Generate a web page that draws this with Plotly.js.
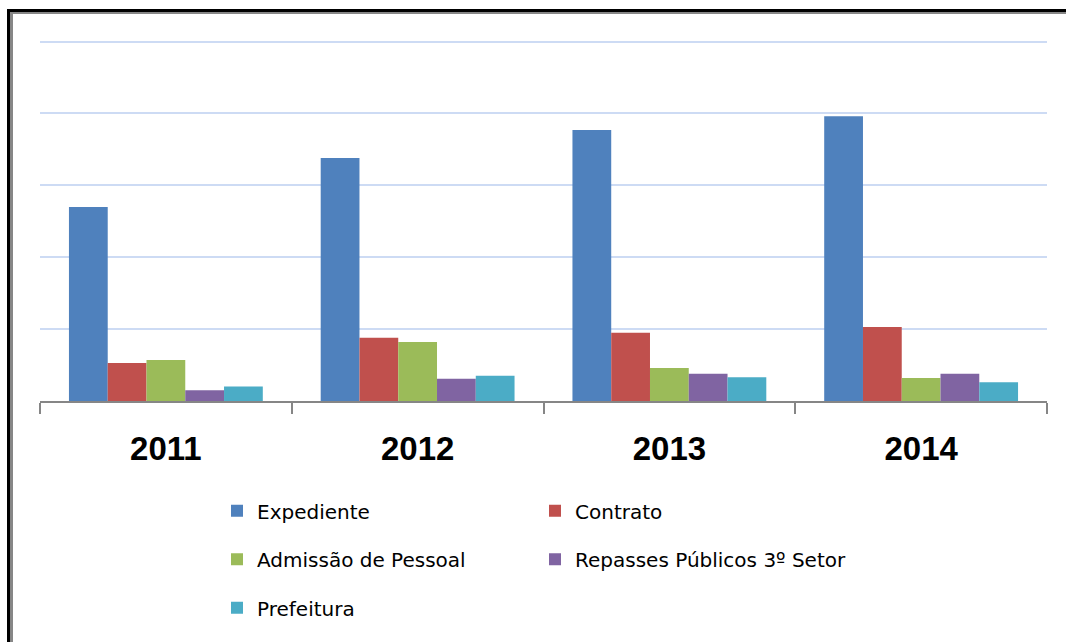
<!DOCTYPE html>
<html>
<head>
<meta charset="utf-8">
<script src="https://cdn.plot.ly/plotly-3.0.1.min.js"></script>
<style>
  body { margin: 0; background: #fff; }
  #frame {
    position: absolute; left: 7px; top: 9px; width: 1100px; height: 700px;
    border-left: 3px solid #000; border-top: 3px solid #000;
    pointer-events: none; z-index: 5;
  }
  #frame div {
    width: 100%; height: 100%;
    border-left: 3px solid #878787; border-top: 2px solid #878787;
  }
  #chart { position: absolute; left: 0; top: 0; width: 1066px; height: 642px; }
</style>
</head>
<body>
<div id="frame"><div></div></div>
<div id="chart"></div>
<script>
// anos no eixo x
let anos = ['2011', '2012', '2013', '2014'];

// valores (escala sem rótulos)
let expediente = [270, 338, 377, 396];
let contrato = [53, 88, 95, 103];
let admissao = [57, 82, 46, 32];
let repasses = [15, 31, 38, 38];
let prefeitura = [20, 35, 33, 26];

let nomes = ['Expediente', 'Contrato', 'Admissão de Pessoal', 'Repasses Públicos 3º Setor', 'Prefeitura'];
let cores = ['#4f81bd', '#c0504d', '#9bbb59', '#8064a2', '#4bacc6'];
let series = [expediente, contrato, admissao, repasses, prefeitura];
let legendas = ['legend', 'legend', 'legend2', 'legend2', 'legend3'];

let traces = [];
for (let i = 0; i < series.length; i++) {
    traces.push({
        type: 'bar',
        x: anos,
        y: series[i],
        name: nomes[i],
        legend: legendas[i],
        marker: { color: cores[i] }
    });
}

let fonteLegenda = { family: 'DejaVu Sans', size: 20, color: '#000' };
function legenda(y) {
    return {
        orientation: 'h',
        x: (217 - 40) / 1007,
        xanchor: 'left',
        y: y,
        yanchor: 'middle',
        entrywidth: 273,
        entrywidthmode: 'pixels',
        font: fonteLegenda,
        bgcolor: 'rgba(0,0,0,0)'
    };
}

let layout = {
    width: 1066,
    height: 642,
    margin: { l: 40, r: 19, t: 38, b: 241 },
    paper_bgcolor: '#fff',
    plot_bgcolor: '#fff',
    barmode: 'group',
    bargap: 0.23,
    bargroupgap: 0,
    showlegend: true,
    xaxis: {
        type: 'category',
        showline: true,
        linecolor: '#868686',
        linewidth: 2,
        ticks: 'outside',
        tickson: 'boundaries',
        ticklen: 11,
        tickwidth: 2,
        tickcolor: '#868686',
        ticklabelstandoff: 17,
        tickfont: { family: 'Liberation Sans', size: 33, color: '#000', weight: 'bold' },
        showgrid: false
    },
    yaxis: {
        range: [0, 505],
        dtick: 100,
        showticklabels: false,
        showgrid: true,
        gridcolor: '#cddbf4',
        gridwidth: 2,
        zeroline: false,
        fixedrange: true
    },
    legend: legenda((401 - 509.5) / 359),
    legend2: legenda((401 - 557.5) / 359),
    legend3: legenda((401 - 605.5) / 359)
};

Plotly.newPlot('chart', traces, layout, { displayModeBar: false, staticPlot: true });
</script>
</body>
</html>
